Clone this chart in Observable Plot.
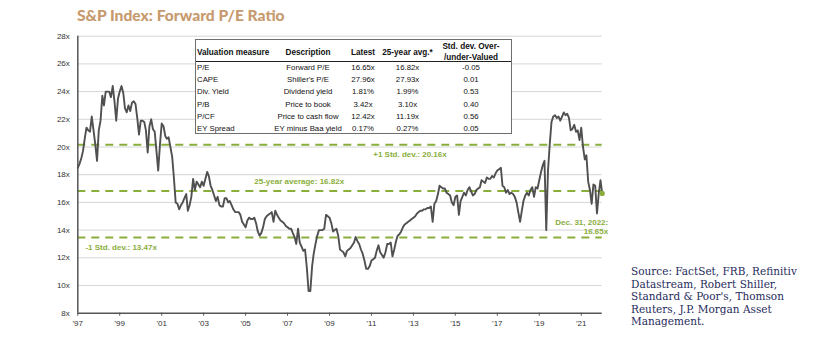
<!DOCTYPE html>
<html><head><meta charset="utf-8">
<script src="https://cdn.jsdelivr.net/npm/d3@7"></script>
<script src="https://cdn.jsdelivr.net/npm/@observablehq/plot@0.6"></script>
<style>
html,body{margin:0;padding:0;background:#fff;}
#wrap{position:relative;width:833px;height:350px;overflow:hidden;font-family:"Liberation Sans",Arial,sans-serif;}
#title{position:absolute;left:77px;top:6px;line-height:18px;font-family:Lato,sans-serif;font-weight:900;font-size:15.6px;color:#c79a6e;white-space:nowrap;}
#chart{position:absolute;left:0;top:0;}
#tbl{position:absolute;left:195px;top:39px;width:317px;height:95px;background:#fff;border:1.5px solid #6e6e6e;box-sizing:border-box;}
.cell{position:absolute;white-space:nowrap;font-size:7.8px;color:#111;line-height:9px;}
.hdr{font-weight:700;font-size:8.2px;}
#rule{position:absolute;left:0;right:0;top:21px;height:0;border-top:1px solid #222;}
#source{position:absolute;left:631px;top:265px;font-family:"DejaVu Serif",serif;font-size:10.5px;line-height:12.5px;color:#1f2b5c;white-space:nowrap;}
</style>
</head><body>
<div id="wrap">
  <div id="chart"></div>
  <div id="title">S&amp;P Index: Forward P/E Ratio</div>
  <div id="tbl"><div id="rule"></div></div>
  <div id="source"></div>
</div>
<script>
// ---- data ----
const startYear = 1997, startMonth = 12; // first monthly observation: Dec 1997
const forwardPE = [
 18.5,18.8,19.2,19.7,20.6,21.4,21.2,21.1,22.2,21.2,20.2,19.0,21.2,21.9,23.7,23.0,24.0,24.0,24.0,23.6,
 24.4,23.3,21.9,23.5,24.0,24.4,23.9,22.8,22.5,23.0,22.6,23.2,23.3,23.1,22.1,20.9,21.9,21.9,21.8,21.2,
 19.6,21.5,22.0,21.3,21.1,19.7,18.3,20.2,21.7,21.5,20.8,20.6,20.7,20.0,19.3,17.8,16.0,15.9,15.5,15.8,
 16.0,16.3,16.6,15.4,15.8,16.4,17.7,16.9,17.5,17.3,17.1,17.5,17.2,17.7,18.2,17.9,17.2,16.9,16.5,16.1,
 16.4,15.8,15.7,15.7,16.3,16.3,16.0,16.1,15.8,15.5,15.3,15.3,15.3,15.1,14.6,14.4,14.2,14.7,14.9,14.8,
 14.8,14.9,14.5,13.9,13.6,13.8,14.2,14.8,15.0,15.1,15.2,15.3,14.6,15.4,15.1,14.9,14.7,14.6,14.5,14.3,
 14.2,14.1,14.1,13.8,13.5,13.0,14.1,13.1,12.8,12.5,12.6,11.3,9.6,9.6,11.4,12.3,13.0,13.6,14.0,14.0,
 14.0,14.1,15.1,15.0,14.9,14.5,13.9,14.0,14.1,13.6,12.6,12.5,12.4,12.1,12.5,12.6,12.7,12.9,13.1,13.5,
 13.2,13.0,12.6,12.3,11.8,11.2,11.2,11.4,11.8,11.9,12.0,12.5,12.9,12.4,12.2,12.0,12.4,13.0,13.0,13.1,
 12.1,12.6,13.2,13.6,13.7,13.9,14.2,14.4,14.5,14.6,14.7,14.8,14.9,15.0,15.2,15.3,15.4,15.4,15.5,15.5,
 15.6,15.6,15.7,14.6,15.9,16.1,16.6,17.2,17.1,17.0,17.0,16.7,16.6,16.5,16.0,15.8,16.4,16.5,15.1,16.1,
 16.4,16.7,16.5,16.9,17.1,16.8,16.5,16.6,16.9,17.0,17.1,17.6,17.5,17.4,17.8,17.7,17.7,17.9,17.8,18.1,
 18.3,18.4,18.5,17.2,17.1,16.7,16.9,16.6,16.7,16.6,16.4,16.0,15.3,14.6,15.4,16.1,16.5,16.7,16.5,16.9,
 17.1,16.4,17.1,17.0,17.6,18.2,18.7,19.0,14.0,18.3,20.2,21.8,22.2,22.3,22.1,22.2,21.9,22.2,22.5,22.3,
 22.4,22.1,21.2,21.3,21.6,21.1,21.2,20.5,21.4,20.0,19.1,19.4,17.5,16.9,15.9,17.3,17.2,15.2,16.6,17.6,
 16.65
];
const avg25 = 16.82, plusStd = 20.16, minusStd = 13.47;
const yTickValues = [8,10,12,14,16,18,20,22,24,26,28];
const xTickYears = [1997,1999,2001,2003,2005,2007,2009,2011,2013,2015,2017,2019,2021];

const tblHeaders = ["Valuation measure","Description","Latest","25-year avg.*","Std. dev. Over-\n/under-Valued"];
const tblMeasure = ["P/E","CAPE","Div. Yield","P/B","P/CF","EY Spread"];
const tblDesc = ["Forward P/E","Shiller's P/E","Dividend yield","Price to book","Price to cash flow","EY minus Baa yield"];
const tblLatest = ["16.65x","27.96x","1.81%","3.42x","12.42x","0.17%"];
const tblAvg = ["16.82x","27.93x","1.99%","3.10x","11.19x","0.27%"];
const tblStd = ["-0.05","0.01","0.53","0.40","0.56","0.05"];

const sourceLines = ["Source: FactSet, FRB, Refinitiv","Datastream, Robert Shiller,","Standard & Poor's, Thomson","Reuters, J.P. Morgan Asset","Management."];

// ---- build ----
const green = "#8aae3c";
const series = forwardPE.map((v, i) => ({date: new Date(Date.UTC(startYear, startMonth - 1 + i, 1)), pe: v}));
const first = series[0].date, lastPt = series[series.length - 1];
const xTicks = xTickYears.map(y => new Date(Date.UTC(y, startMonth - 1, 1)));
const bands = [{v: plusStd}, {v: avg25}, {v: minusStd}];
const monthOf = (y, m) => new Date(Date.UTC(y, m - 1, 1));

const chart = Plot.plot({
  width: 620, height: 335,
  marginLeft: 77.3, marginRight: 18.3, marginTop: 35.7, marginBottom: 22.3,
  style: {fontFamily: "'Liberation Sans', Arial, sans-serif", fontSize: "8px", color: "#333", background: "transparent", overflow: "visible"},
  x: {type: "utc", domain: [first, lastPt.date]},
  y: {domain: [8, 28]},
  marks: [
    Plot.ruleY(yTickValues.filter(v => v > 8), {stroke: "#d6d6d6", strokeWidth: 1}),
    Plot.ruleY(bands, {y: "v", stroke: green, strokeWidth: 2, strokeDasharray: "8,6"}),
    Plot.lineY(series, {x: "date", y: "pe", stroke: "#505050", strokeWidth: 1.9}),
    Plot.dot([lastPt], {x: "date", y: "pe", r: 2.6, fill: green}),
    Plot.ruleX([first], {stroke: "#555", strokeWidth: 1.5}),
    Plot.ruleY([8], {stroke: "#555", strokeWidth: 1.5}),
    Plot.axisY({ticks: yTickValues, tickFormat: d => d + "x", tickSize: 0, tickPadding: 8, label: null, fill: "#333"}),
    Plot.axisX({ticks: xTicks, tickFormat: d => "'" + String(d.getUTCFullYear()).slice(2), tickSize: 3, tickPadding: 4, label: null, fill: "#333", stroke: "#555"}),
    Plot.text([{d: monthOf(2012, 1), v: plusStd, t: "+1 Std. dev.: " + plusStd.toFixed(2) + "x"}], {x: "d", y: "v", text: "t", textAnchor: "start", dy: 10, fill: green, fontWeight: "bold", fontSize: 8}),
    Plot.text([{d: monthOf(2006, 5), v: avg25, t: "25-year average: " + avg25.toFixed(2) + "x"}], {x: "d", y: "v", text: "t", textAnchor: "start", dy: -9.5, fill: green, fontWeight: "bold", fontSize: 8}),
    Plot.text([{d: monthOf(1998, 4), v: minusStd, t: "-1 Std. dev.: " + minusStd.toFixed(2) + "x"}], {x: "d", y: "v", text: "t", textAnchor: "start", dx: 0.7, dy: 10, fill: green, fontWeight: "bold", fontSize: 8}),
    Plot.text([lastPt], {x: "date", y: "pe", text: () => "Dec. 31, 2022:", textAnchor: "end", dx: 6, dy: 29.4, fill: green, fontWeight: "bold", fontSize: 8}),
    Plot.text([lastPt], {x: "date", y: "pe", text: d => d.pe.toFixed(2) + "x", textAnchor: "end", dx: 6, dy: 37.8, fill: green, fontWeight: "bold", fontSize: 8})
  ]
});
document.getElementById("chart").appendChild(chart);

// table
const tbl = document.getElementById("tbl");
function cell(text, x, y, anchor, cls) {
  const el = document.createElement("div");
  el.className = "cell" + (cls ? " " + cls : "");
  el.textContent = text;
  el.style.left = x + "px";
  el.style.top = y + "px";
  el.style.transform = anchor === "start" ? "translate(0,-50%)" : "translate(-50%,-50%)";
  if (anchor !== "start") el.style.textAlign = "center";
  tbl.appendChild(el);
}
const colX = [1, 112, 167, 211.5, 275];
tblHeaders.forEach((h, j) => {
  const parts = h.split("\n");
  if (parts.length === 1) cell(h, colX[j], 11.5, j === 0 ? "start" : "middle", "hdr");
  else parts.forEach((p, k) => cell(p, colX[j], 6 + k * 10.5, "middle", "hdr"));
});
const cols = [tblMeasure, tblDesc, tblLatest, tblAvg, tblStd];
tblMeasure.forEach((_, i) => {
  cols.forEach((c, j) => cell(c[i], colX[j], 27 + i * 12.2, j === 0 ? "start" : "middle"));
});

document.getElementById("source").innerHTML = sourceLines.join("<br>");
</script>
</body></html>
